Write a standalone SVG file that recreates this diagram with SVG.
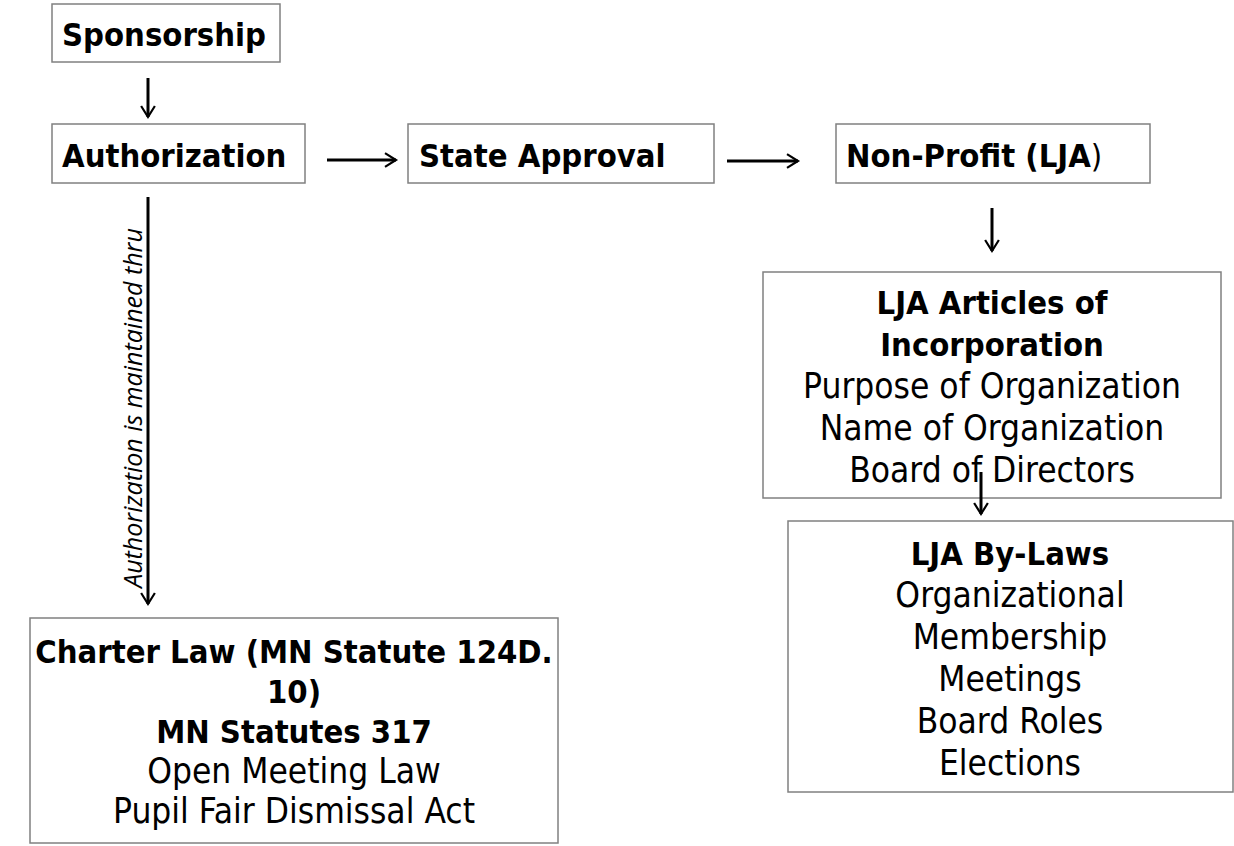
<svg xmlns="http://www.w3.org/2000/svg" width="1234" height="846" viewBox="0 0 1234 846">
<style>
.box{fill:#fff;stroke:#808080;stroke-width:1.5}
.t{font-family:"DejaVu Sans Condensed","DejaVu Sans",sans-serif;font-stretch:condensed;font-size:35px;fill:#000}
.b{font-weight:bold;font-size:32.5px}
.c{text-anchor:middle}
.con{stroke:#000;stroke-width:3;fill:none;marker-end:url(#ah)}
.lbl{font-family:"Open Sans","Noto Sans",sans-serif;font-style:italic;font-size:25px;fill:#000;text-anchor:middle}
</style>
<defs>
<marker id="ah" viewBox="0 0 12 12" refX="10" refY="6" markerWidth="5.5" markerHeight="5.5" orient="auto" markerUnits="strokeWidth">
<path d="M2,1 L10,6 L2,11" fill="none" stroke="#000" stroke-width="1.6" stroke-linejoin="miter"/>
</marker>
</defs>
<rect width="1234" height="846" fill="#fff"/>
<g id="connectors">
<line class="con" x1="148" y1="78" x2="148" y2="117"/>
<line class="con" x1="327" y1="160" x2="396" y2="160"/>
<line class="con" x1="727" y1="161" x2="798" y2="161"/>
<line class="con" x1="992" y1="208" x2="992" y2="251"/>
<line class="con" x1="148" y1="197" x2="148" y2="604"/>
<text class="lbl" transform="translate(142,408) rotate(-90)">Authorization is maintained thru</text>
</g>
<g id="sponsorship">
<rect class="box" x="52" y="4" width="228" height="58"/>
<text class="t b" x="62" y="46">Sponsorship</text>
</g>
<g id="authorization">
<rect class="box" x="52" y="124" width="253" height="59"/>
<text class="t b" x="62" y="167">Authorization</text>
</g>
<g id="state-approval">
<rect class="box" x="408" y="124" width="306" height="59"/>
<text class="t b" x="419" y="167">State Approval</text>
</g>
<g id="non-profit">
<rect class="box" x="836" y="124" width="314" height="59"/>
<text class="t b" x="846" y="167">Non-Profit (LJA<tspan font-weight="normal">)</tspan></text>
</g>
<g id="articles">
<rect class="box" x="763" y="272" width="458" height="226"/>
<text class="t b c" x="992" y="314">LJA Articles of</text>
<text class="t b c" x="992" y="356">Incorporation</text>
<text class="t c" x="992" y="398">Purpose of Organization</text>
<text class="t c" x="992" y="440">Name of Organization</text>
<text class="t c" x="992" y="482">Board of Directors</text>
</g>
<g id="bylaws">
<rect class="box" x="788" y="521" width="445" height="271"/>
<text class="t b c" x="1010" y="565">LJA By-Laws</text>
<text class="t c" x="1010" y="607">Organizational</text>
<text class="t c" x="1010" y="649">Membership</text>
<text class="t c" x="1010" y="691">Meetings</text>
<text class="t c" x="1010" y="733">Board Roles</text>
<text class="t c" x="1010" y="775">Elections</text>
</g>
<line class="con" x1="981" y1="472" x2="981" y2="514"/>
<g id="charter">
<rect class="box" x="30" y="618" width="528" height="225"/>
<text class="t b c" x="294" y="663">Charter Law (MN Statute 124D.</text>
<text class="t b c" x="294" y="703">10)</text>
<text class="t b c" x="294" y="743">MN Statutes 317</text>
<text class="t c" x="294" y="783">Open Meeting Law</text>
<text class="t c" x="294" y="823">Pupil Fair Dismissal Act</text>
</g>
</svg>
